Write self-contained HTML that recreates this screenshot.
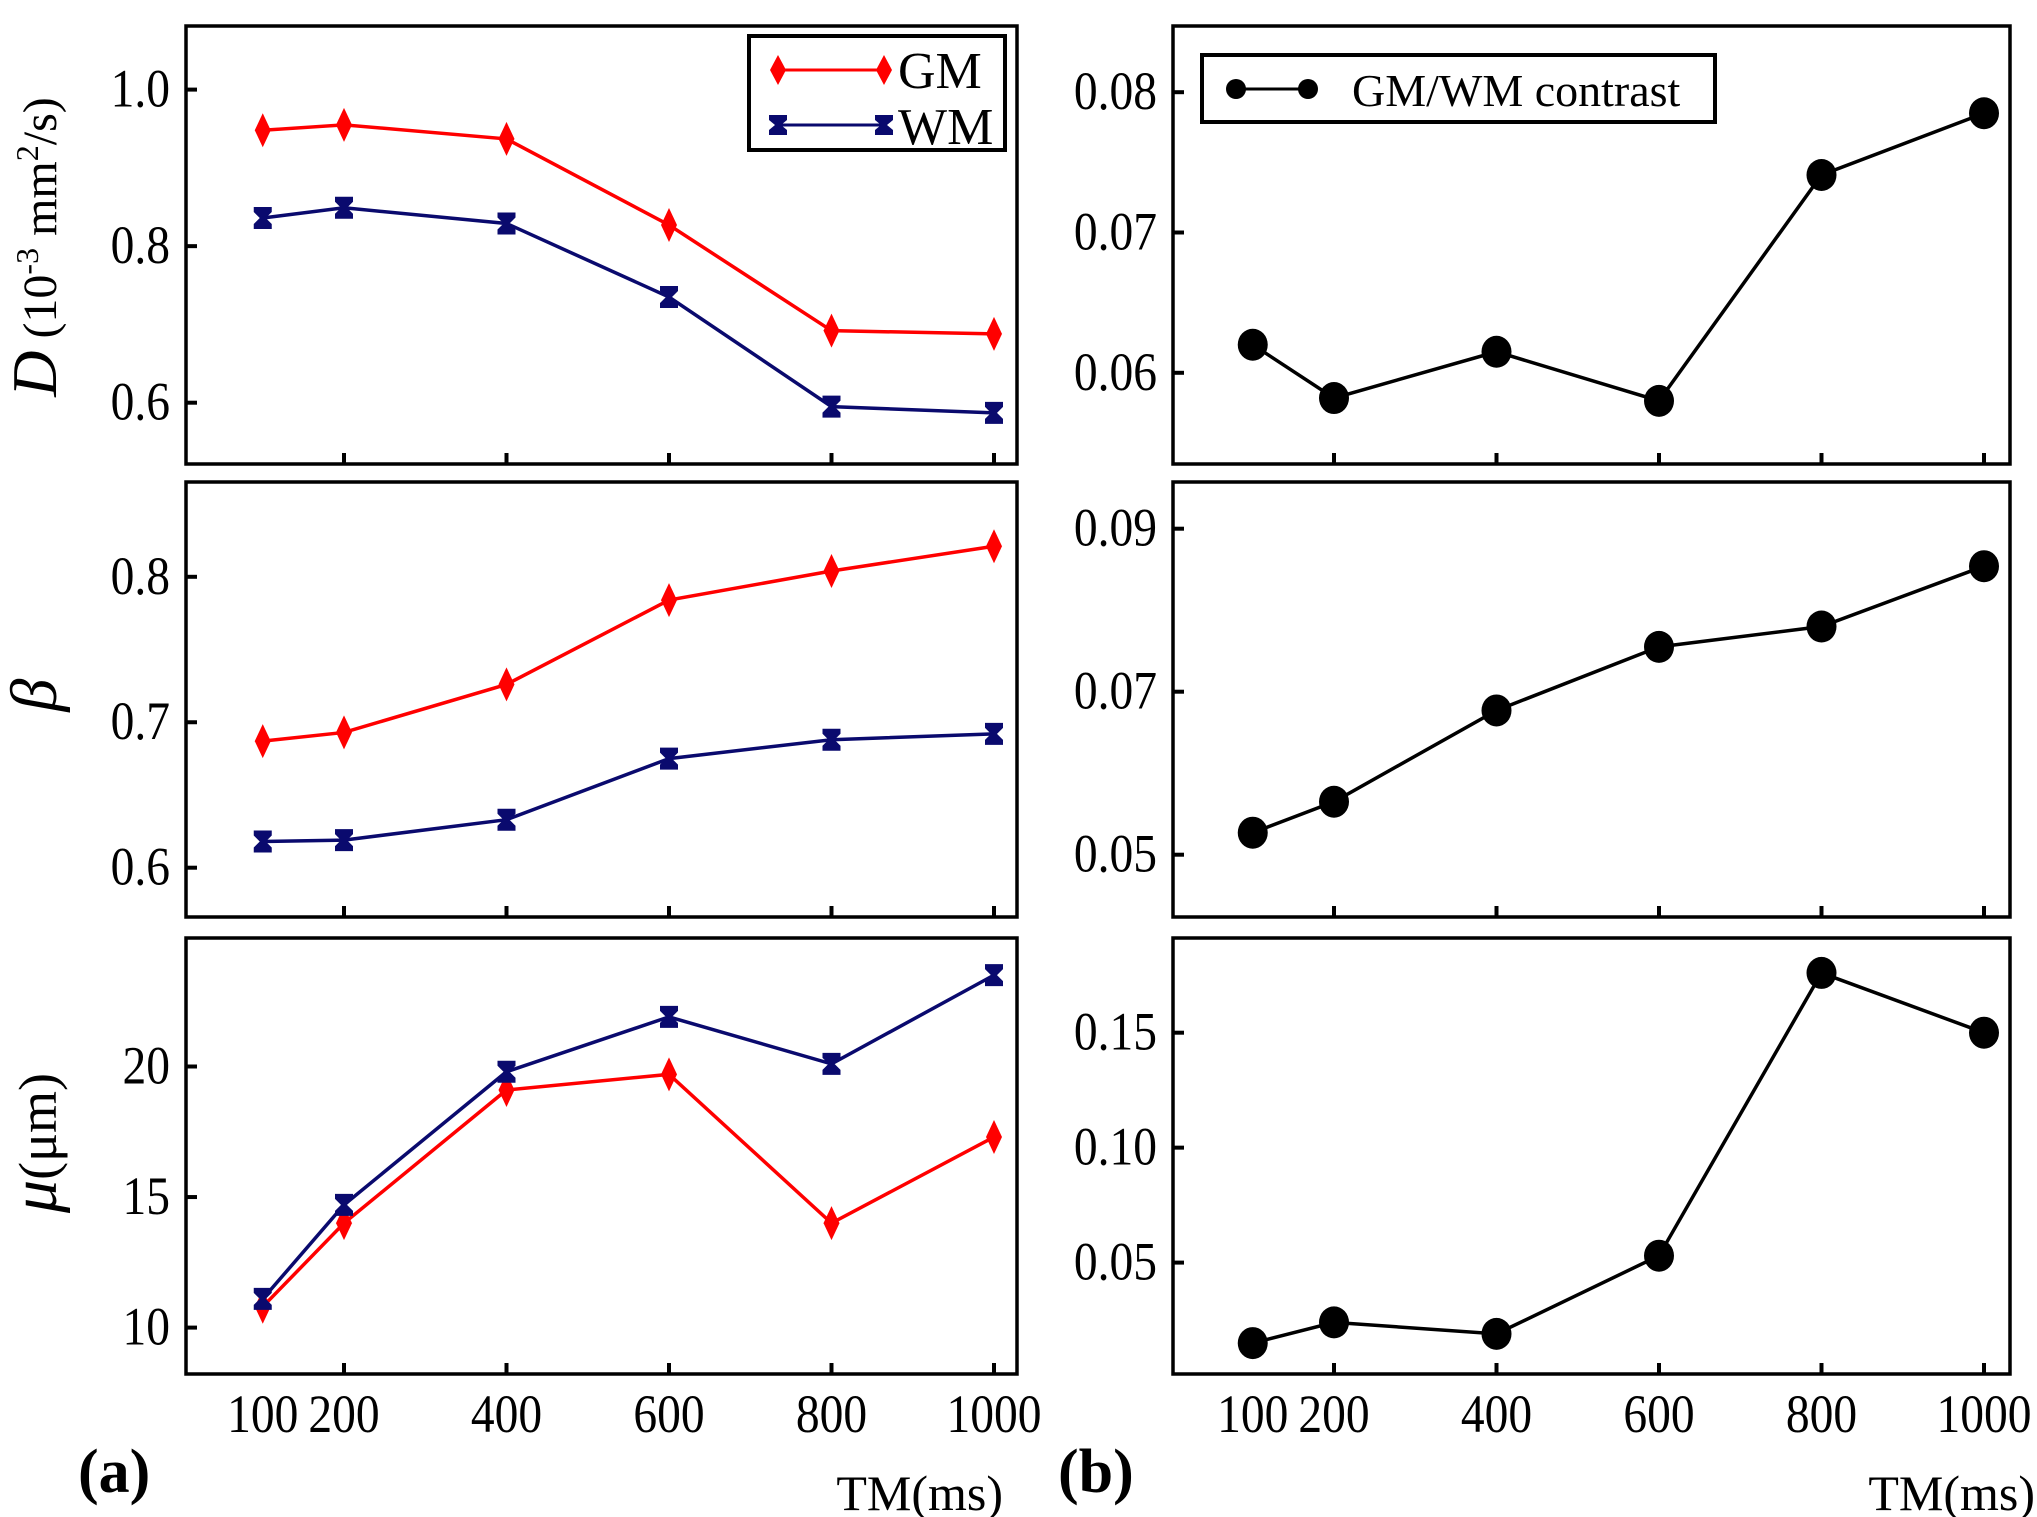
<!DOCTYPE html>
<html><head><meta charset="utf-8"><style>
html,body{margin:0;padding:0;background:#fff;}
svg{display:block;}
svg text{font-family:"Liberation Serif","DejaVu Serif",serif;}
</style></head><body>
<svg id="chart" width="2037" height="1517" viewBox="0 0 2037 1517" xmlns="http://www.w3.org/2000/svg" font-family="Liberation Serif, serif"></svg>
<script>
const tmValues = [100, 200, 400, 600, 800, 1000];
const xTickLabels = [100, 200, 400, 600, 800, 1000];
const dGM = [0.948, 0.955, 0.937, 0.827, 0.692, 0.688];
const dWM = [0.836, 0.849, 0.829, 0.735, 0.595, 0.587];
const betaGM = [0.687, 0.693, 0.726, 0.784, 0.804, 0.821];
const betaWM = [0.618, 0.619, 0.633, 0.675, 0.688, 0.692];
const muGM = [10.8, 14.0, 19.1, 19.7, 14.0, 17.3];
const muWM = [11.1, 14.7, 19.8, 21.9, 20.1, 23.5];
const dContrast = [0.0620, 0.0582, 0.0615, 0.0580, 0.0741, 0.0785];
const betaContrast = [0.0527, 0.0565, 0.0677, 0.0755, 0.0780, 0.0854];
const muContrast = [0.015, 0.024, 0.019, 0.053, 0.176, 0.150];
const dTicks = [0.6, 0.8, 1.0];
const betaTicks = [0.6, 0.7, 0.8];
const muTicks = [10, 15, 20];
const dcTicks = [0.06, 0.07, 0.08];
const bcTicks = [0.05, 0.07, 0.09];
const mcTicks = [0.05, 0.10, 0.15];

const svg = document.getElementById('chart');
const NS = 'http://www.w3.org/2000/svg';
function el(tag, attrs, parent){const e=document.createElementNS(NS,tag);for(const k in attrs)e.setAttribute(k,attrs[k]);(parent||svg).appendChild(e);return e;}

const rows = [{top:26,bot:464},{top:482,bot:917},{top:938,bot:1374}];
const cols = [{l:186,r:1017,x200:344},{l:1173,r:2010,x200:1334}];
function xScale(c){return t=>cols[c].x200+(t-200)*0.8125;}
function yScale(v1,p1,v2,p2){return v=>p1+(v-v1)*(p2-p1)/(v2-v1);}

function panel(name,c,r,ys,ticks,fmt,series){
  const g=el('g',{});
  
  
  const {l,r:rr}=cols[c];const {top,bot}=rows[r];
  const xs=xScale(c);
  ticks.forEach(v=>{
    const y=ys(v);
    const t=el('line',{x1:l,x2:l+11,y1:y,y2:y,stroke:'#000','stroke-width':4},g);
    
    const tx=el('text',{x:l-16,y:y+17,'text-anchor':'end','font-size':54,fill:'#000','font-family':'Liberation Serif, serif',transform:`translate(${(l-16)*0.12},0) scale(0.88,1)`},g);
    tx.textContent=fmt(v);
    
  });
  tmValues.slice(1).forEach(t=>{
    const x=xs(t);
    const tk=el('line',{x1:x,x2:x,y1:bot,y2:bot-11,stroke:'#000','stroke-width':4},g);
    
  });
  series.forEach(s=>{
    const pts=s.data.map((v,i)=>[xs(tmValues[i]),ys(v)]);
    const pl=el('polyline',{points:pts.map(p=>p.join(',')).join(' '),fill:'none',stroke:s.color,'stroke-width':3.5},g);
    
    pts.forEach(p=>{const m=marker(s.kind,p[0],p[1],g);});
  });
  const fr=el('rect',{x:l,y:top,width:rr-l,height:bot-top,fill:'none',stroke:'#000','stroke-width':3.5},g);
  
}
function marker(kind,x,y,g){
  if(kind==='diamond') return el('path',{d:`M${x} ${y-17} L${x+8} ${y} L${x} ${y+17} L${x-8} ${y} Z`,fill:'#ff0000'},g);
  if(kind==='hour') return el('path',{d:`M${x-9} ${y-11} L${x+9} ${y-11} L${x+9} ${y-6} L${x+3} ${y} L${x+9} ${y+6} L${x+9} ${y+11} L${x-9} ${y+11} L${x-9} ${y+6} L${x-3} ${y} L${x-9} ${y-6} Z`,fill:'#0a0a6e'},g);
  return el('ellipse',{cx:x,cy:y,rx:15,ry:16,fill:'#000'},g);
}
const f1=v=>v.toFixed(1), f2=v=>v.toFixed(2), f0=v=>String(v);
const GM={color:'#ff0000',kind:'diamond'}, WM={color:'#0a0a6e',kind:'hour'}, C={color:'#000',kind:'circle'};
panel('d-panel',0,0,yScale(1.0,89.6,0.6,402.7),dTicks,f1,[{...GM,name:'gm',data:dGM},{...WM,name:'wm',data:dWM}]);
panel('beta-panel',0,1,yScale(0.8,576.8,0.6,867.7),betaTicks,f1,[{...GM,name:'gm',data:betaGM},{...WM,name:'wm',data:betaWM}]);
panel('mu-panel',0,2,yScale(20,1066.5,10,1327.6),muTicks,f0,[{...GM,name:'gm',data:muGM},{...WM,name:'wm',data:muWM}]);
panel('d-contrast-panel',1,0,yScale(0.08,92.2,0.06,372.8),dcTicks,f2,[{...C,name:'contrast',data:dContrast}]);
panel('beta-contrast-panel',1,1,yScale(0.09,528.7,0.05,854.7),bcTicks,f2,[{...C,name:'contrast',data:betaContrast}]);
panel('mu-contrast-panel',1,2,yScale(0.15,1032.7,0.05,1262.6),mcTicks,f2,[{...C,name:'contrast',data:muContrast}]);

[0,1].forEach(c=>{const xs=xScale(c);xTickLabels.forEach((t,i)=>{
  const x=xs(tmValues[i]);
  const tx=el('text',{x:x,y:1432,'text-anchor':'middle','font-size':54,'font-family':'Liberation Serif, serif',transform:`translate(${x*0.12},0) scale(0.88,1)`},svg);
  tx.textContent=t;
});});
</script>
<script>
(function(){
const svg=document.getElementById('chart');const NS='http://www.w3.org/2000/svg';
function t(x,y,txt,attrs,name){const e=document.createElementNS(NS,'text');e.setAttribute('x',x);e.setAttribute('y',y);e.setAttribute('font-family','Liberation Serif, serif');for(const k in attrs)e.setAttribute(k,attrs[k]);e.innerHTML=txt;svg.appendChild(e);return e;}
t(78,1492,'(a)',{'font-size':62,'font-weight':'bold'},'panel-a-label');
t(1058,1492,'(b)',{'font-size':62,'font-weight':'bold'},'panel-b-label');
t(1003,1510,'TM(ms)',{'font-size':50,'text-anchor':'end'},'x-axis-title-a');
t(2035,1510,'TM(ms)',{'font-size':50,'text-anchor':'end'},'x-axis-title-b');
t(0,0,'<tspan font-style="italic" font-size="64">D</tspan><tspan font-size="48"> (10</tspan><tspan font-size="32" dy="-18">-3</tspan><tspan font-size="48" dy="18"> mm</tspan><tspan font-size="32" dy="-18">2</tspan><tspan font-size="48" dy="18">/s)</tspan>',{'text-anchor':'middle',transform:'translate(56,247) rotate(-90)'},'y-axis-title-d');
t(0,0,'β',{'font-size':66,'font-style':'italic','text-anchor':'middle',transform:'translate(56,695) rotate(-90)'},'y-axis-title-beta');
t(0,0,'<tspan font-style="italic" font-size="66">μ</tspan><tspan font-size="54">(μm)</tspan>',{'text-anchor':'middle',transform:'translate(56,1143) rotate(-90)'},'y-axis-title-mu');
const g=document.createElementNS(NS,'g');svg.appendChild(g);
g.innerHTML='<rect x="749" y="36" width="256" height="114" fill="#fff" stroke="#000" stroke-width="4"/>'+
'<line x1="778" y1="70" x2="884" y2="70" stroke="#f00" stroke-width="3"/>'+
'<path d="M778 55 L786 70 L778 85 L770 70Z M884 55 L892 70 L884 85 L876 70Z" fill="#f00"/>'+
'<text x="898" y="88" font-size="52" font-family="Liberation Serif, serif">GM</text>'+
'<line x1="778" y1="125" x2="884" y2="125" stroke="#0a0a6e" stroke-width="3"/>'+
'<path d="M769 115 h18 v5 l-6 5 l6 5 v5 h-18 v-5 l6 -5 l-6 -5Z M875 115 h18 v5 l-6 5 l6 5 v5 h-18 v-5 l6 -5 l-6 -5Z" fill="#0a0a6e"/>'+
'<text x="898" y="144" font-size="52" font-family="Liberation Serif, serif">WM</text>';
const g2=document.createElementNS(NS,'g');svg.appendChild(g2);
g2.innerHTML='<rect x="1202" y="55" width="513" height="67" fill="#fff" stroke="#000" stroke-width="4"/>'+
'<line x1="1236" y1="89" x2="1308" y2="89" stroke="#000" stroke-width="3"/>'+
'<circle cx="1236" cy="89" r="10"/><circle cx="1308" cy="89" r="10"/>'+
'<text x="1352" y="106" font-size="46" font-family="Liberation Serif, serif">GM/WM contrast</text>';
})();
</script>
</body></html>
